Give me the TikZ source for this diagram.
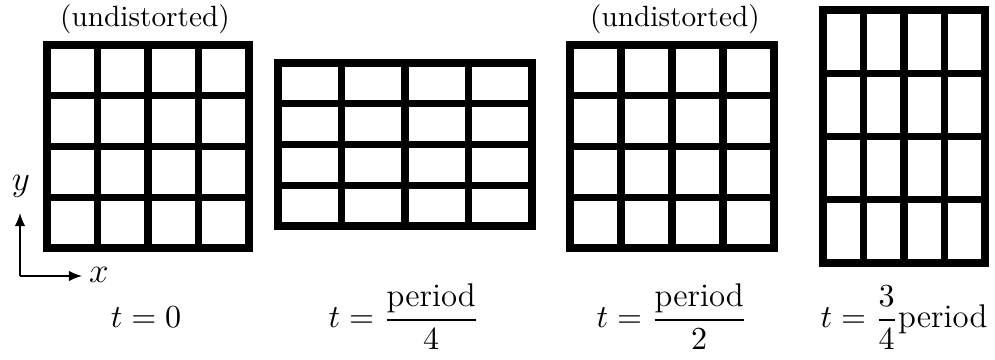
\documentclass[tikz,border=0pt]{standalone}
\usepackage{amsmath}
\usetikzlibrary{calc,arrows.meta}

\begin{document}
\begin{tikzpicture}[
  x=0.012cm, y=-0.012cm,
  gridline/.style={line width=2.4pt, line join=miter},
  axis/.style={line width=0.5pt, -{Latex[length=4.5pt,width=3.6pt]}},
  toplabel/.style={font=\fontsize{10}{12}\selectfont, anchor=base},
  timelabel/.style={font=\fontsize{11.2}{13}\selectfont, anchor=base},
  axlabel/.style={font=\fontsize{12}{14}\selectfont, anchor=base}
]
\useasboundingbox (0,0) rectangle (995,360);

% the four snapshots of the grid
\foreach \xa/\ya/\xb/\yb [count=\i] in {47/45/249/248, 278/63/532/226, 570/45/774/248, 823/10/985/263} {
  \coordinate (g\i-nw) at (\xa,\ya);
  \coordinate (g\i-se) at (\xb,\yb);
  \draw[gridline] (g\i-nw) rectangle (g\i-se);
  \foreach \k in {1,2,3} {
    \draw[gridline] ($(\xa,\ya)!\k/4!(\xb,\ya)$) -- ($(\xa,\yb)!\k/4!(\xb,\yb)$);
    \draw[gridline] ($(\xa,\ya)!\k/4!(\xa,\yb)$) -- ($(\xb,\ya)!\k/4!(\xb,\yb)$);
  }
}

\node[toplabel] (undist1) at (145,27) {(undistorted)};
\node[toplabel] (undist3) at (675,27) {(undistorted)};

% axes
\coordinate (orig) at (20,276);
\coordinate (ytip) at (20,213);
\coordinate (xtip) at (82,276);
\draw[axis] (orig) -- (ytip);
\draw[axis] (orig) -- (xtip);
\node[axlabel] (ylab) at (21,191) {$y$};
\node[axlabel] (xlab) at (99,283) {$x$};

% times
\node[timelabel] (t0) at (146,328) {$t=0$};
\node[timelabel] (t1) at (404,328) {$t=\dfrac{\text{period}}{4}$};
\node[timelabel] (t2) at (672,328) {$t=\dfrac{\text{period}}{2}$};
\node[timelabel] (t3) at (904,328) {$t=\dfrac{3}{4}\text{period}$};
\end{tikzpicture}
\end{document}
